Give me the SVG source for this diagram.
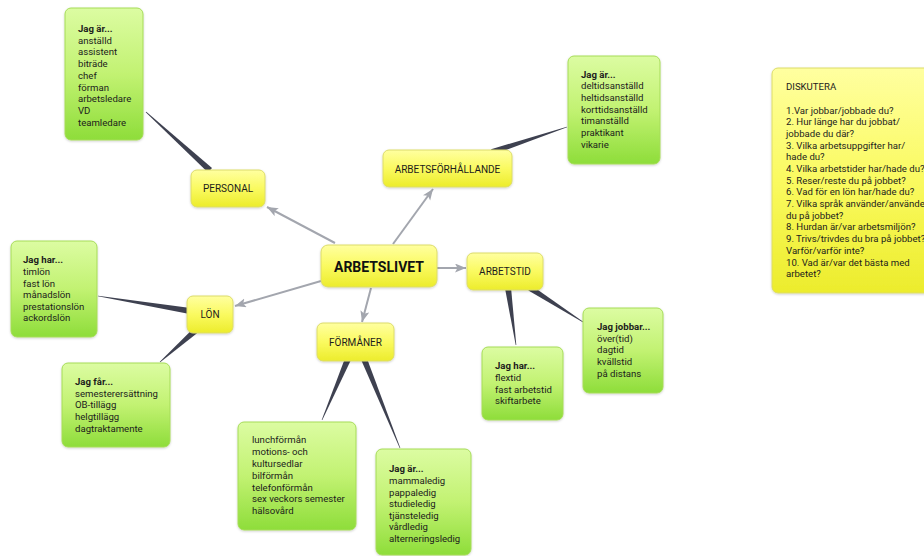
<svg xmlns="http://www.w3.org/2000/svg" width="924" height="556" viewBox="0 0 924 556">
<defs>
<linearGradient id="gGreen" x1="0" y1="0" x2="0" y2="1">
<stop offset="0" stop-color="#dcfca2"/>
<stop offset="0.5" stop-color="#c2f272"/>
<stop offset="1" stop-color="#8edd3a"/>
</linearGradient>
<linearGradient id="gYellow" x1="0" y1="0" x2="0" y2="1">
<stop offset="0" stop-color="#ffffa0"/>
<stop offset="0.5" stop-color="#fafa60"/>
<stop offset="1" stop-color="#ecec2c"/>
</linearGradient>
<filter id="sh" x="-10%" y="-10%" width="130%" height="130%">
<feDropShadow dx="0" dy="1" stdDeviation="1" flood-color="#000" flood-opacity="0.18"/>
</filter>
<marker id="ah" markerUnits="userSpaceOnUse" markerWidth="12" markerHeight="10" refX="11" refY="4.5" orient="auto">
<path d="M0,0 L11,4.5 L0,9 L2.5,4.5 z" fill="#a3a6ae"/>
</marker>
<style>
.green{fill:url(#gGreen);stroke:#a6dc58;stroke-width:1;filter:url(#sh)}
.yellow{fill:url(#gYellow);stroke:#dcdc6a;stroke-width:1;filter:url(#sh)}
text{font-family:Roboto,"Liberation Sans",sans-serif;font-size:9.6px;fill:#1c1c1c}
.b{font-weight:bold}
.lab{text-anchor:middle;font-size:10px}
.title{font-size:14px;font-weight:bold;text-anchor:middle;fill:#111}
.taper{fill:#3e4150}
.arrow{stroke:#a3a6ae;stroke-width:2;fill:none;marker-end:url(#ah)}
</style>
</defs>
<g id="connectors">
<polygon class="taper" points="145.7,112.3 146.3,111.7 212,168 208,172.4"/>
<polygon class="taper" points="567.1,127.3 566.9,126.7 491.1,149.2 492.9,154.8"/>
<polygon class="taper" points="98,295.7 98,296.3 189.5,314 190.5,308"/>
<polygon class="taper" points="159.8,361.8 160.2,362.2 197,333.3 193,328.8"/>
<polygon class="taper" points="321.7,419.9 322.3,420.1 350.8,360.2 345.2,357.8"/>
<polygon class="taper" points="400.3,447.9 399.7,448.1 361.2,360.1 366.8,357.9"/>
<polygon class="taper" points="516.3,345 515.7,345 505,288.4 511,287.6"/>
<polygon class="taper" points="583.2,321.8 582.8,322.2 528.4,290.5 531.6,285.5"/>
<line class="arrow" x1="335" y1="243" x2="267" y2="207"/>
<line class="arrow" x1="393" y1="244" x2="433" y2="189"/>
<line class="arrow" x1="437" y1="268" x2="466" y2="268"/>
<line class="arrow" x1="371" y1="288" x2="362" y2="322"/>
<line class="arrow" x1="321" y1="281" x2="235" y2="306"/>
</g>
<g id="personal-list">
<rect class="green" x="65" y="8" width="78" height="132" rx="6"/>
<text x="78" y="32"><tspan class="b">Jag är...</tspan><tspan x="78" dy="11.7">anställd</tspan><tspan x="78" dy="11.7">assistent</tspan><tspan x="78" dy="11.7">biträde</tspan><tspan x="78" dy="11.7">chef</tspan><tspan x="78" dy="11.7">förman</tspan><tspan x="78" dy="11.7">arbetsledare</tspan><tspan x="78" dy="11.7">VD</tspan><tspan x="78" dy="11.7">teamledare</tspan></text>
</g>
<g id="personal">
<rect class="yellow" x="191" y="170" width="74" height="37" rx="6"/>
<text class="lab" x="228" y="191.5">PERSONAL</text>
</g>
<g id="forhallande-list">
<rect class="green" x="568" y="56" width="92" height="108" rx="6"/>
<text x="581" y="77.5"><tspan class="b">Jag är...</tspan><tspan x="581" dy="11.7">deltidsanställd</tspan><tspan x="581" dy="11.7">heltidsanställd</tspan><tspan x="581" dy="11.7">korttidsanställd</tspan><tspan x="581" dy="11.7">timanställd</tspan><tspan x="581" dy="11.7">praktikant</tspan><tspan x="581" dy="11.7">vikarie</tspan></text>
</g>
<g id="arbetsforhallande">
<rect class="yellow" x="383" y="150" width="129" height="37" rx="6"/>
<text class="lab" x="447.5" y="172.5">ARBETSFÖRHÅLLANDE</text>
</g>
<g id="diskutera">
<rect class="yellow" x="772" y="68" width="160" height="225" rx="6"/>
<text x="786" y="90"><tspan>DISKUTERA</tspan><tspan x="786" dy="23.5">1.Var jobbar/jobbade du?</tspan><tspan x="786" dy="11.7">2. Hur länge har du jobbat/</tspan><tspan x="786" dy="11.7">jobbade du där?</tspan><tspan x="786" dy="11.7">3. Vilka arbetsuppgifter har/</tspan><tspan x="786" dy="11.7">hade du?</tspan><tspan x="786" dy="11.7">4. Vilka arbetstider har/hade du?</tspan><tspan x="786" dy="11.7">5. Reser/reste du på jobbet?</tspan><tspan x="786" dy="11.7">6. Vad för en lön har/hade du?</tspan><tspan x="786" dy="11.7">7. Vilka språk använder/använde</tspan><tspan x="786" dy="11.7">du på jobbet?</tspan><tspan x="786" dy="11.7">8. Hurdan är/var arbetsmiljön?</tspan><tspan x="786" dy="11.7">9. Trivs/trivdes du bra på jobbet?</tspan><tspan x="786" dy="11.7">Varför/varför inte?</tspan><tspan x="786" dy="11.7">10. Vad är/var det bästa med</tspan><tspan x="786" dy="11.7">arbetet?</tspan></text>
</g>
<g id="lon-har">
<rect class="green" x="11" y="241" width="86" height="96" rx="6"/>
<text x="23" y="263.3"><tspan class="b">Jag har...</tspan><tspan x="23" dy="11.6">timlön</tspan><tspan x="23" dy="11.6">fast lön</tspan><tspan x="23" dy="11.6">månadslön</tspan><tspan x="23" dy="11.6">prestationslön</tspan><tspan x="23" dy="11.6">ackordslön</tspan></text>
</g>
<g id="lon">
<rect class="yellow" x="187" y="296" width="46" height="37" rx="6"/>
<text class="lab" x="210" y="317.5">LÖN</text>
</g>
<g id="lon-far">
<rect class="green" x="62" y="363" width="108" height="84" rx="6"/>
<text x="75" y="385"><tspan class="b">Jag får...</tspan><tspan x="75" dy="11.7">semesterersättning</tspan><tspan x="75" dy="11.7">OB-tillägg</tspan><tspan x="75" dy="11.7">helgtillägg</tspan><tspan x="75" dy="11.7">dagtraktamente</tspan></text>
</g>
<g id="arbetslivet">
<rect class="yellow" x="321" y="245" width="116" height="42" rx="7"/>
<text class="title" x="379" y="271.5">ARBETSLIVET</text>
</g>
<g id="formaner">
<rect class="yellow" x="317" y="323" width="77" height="38" rx="6"/>
<text class="lab" x="355.5" y="346">FÖRMÅNER</text>
</g>
<g id="formaner-list">
<rect class="green" x="238" y="422" width="118" height="108" rx="6"/>
<text x="252" y="443.3"><tspan>lunchförmån</tspan><tspan x="252" dy="11.8">motions- och</tspan><tspan x="252" dy="11.8">kultursedlar</tspan><tspan x="252" dy="11.8">bilförmån</tspan><tspan x="252" dy="11.8">telefonförmån</tspan><tspan x="252" dy="11.8">sex veckors semester</tspan><tspan x="252" dy="11.8">hälsovård</tspan></text>
</g>
<g id="ledig-list">
<rect class="green" x="376" y="449" width="95" height="106" rx="6"/>
<text x="389" y="472.3"><tspan class="b">Jag är...</tspan><tspan x="389" dy="11.6">mammaledig</tspan><tspan x="389" dy="11.6">pappaledig</tspan><tspan x="389" dy="11.6">studieledig</tspan><tspan x="389" dy="11.6">tjänsteledig</tspan><tspan x="389" dy="11.6">vårdledig</tspan><tspan x="389" dy="11.6">alterneringsledig</tspan></text>
</g>
<g id="arbetstid">
<rect class="yellow" x="467" y="253" width="76" height="37" rx="6"/>
<text class="lab" x="505" y="275">ARBETSTID</text>
</g>
<g id="arbetstid-har">
<rect class="green" x="482" y="347" width="81" height="73" rx="6"/>
<text x="495" y="369.3"><tspan class="b">Jag har...</tspan><tspan x="495" dy="11.6">flextid</tspan><tspan x="495" dy="11.6">fast arbetstid</tspan><tspan x="495" dy="11.6">skiftarbete</tspan></text>
</g>
<g id="arbetstid-jobbar">
<rect class="green" x="583" y="308" width="80" height="85" rx="6"/>
<text x="597" y="330"><tspan class="b">Jag jobbar...</tspan><tspan x="597" dy="11.7">över(tid)</tspan><tspan x="597" dy="11.7">dagtid</tspan><tspan x="597" dy="11.7">kvällstid</tspan><tspan x="597" dy="11.7">på distans</tspan></text>
</g>
</svg>
